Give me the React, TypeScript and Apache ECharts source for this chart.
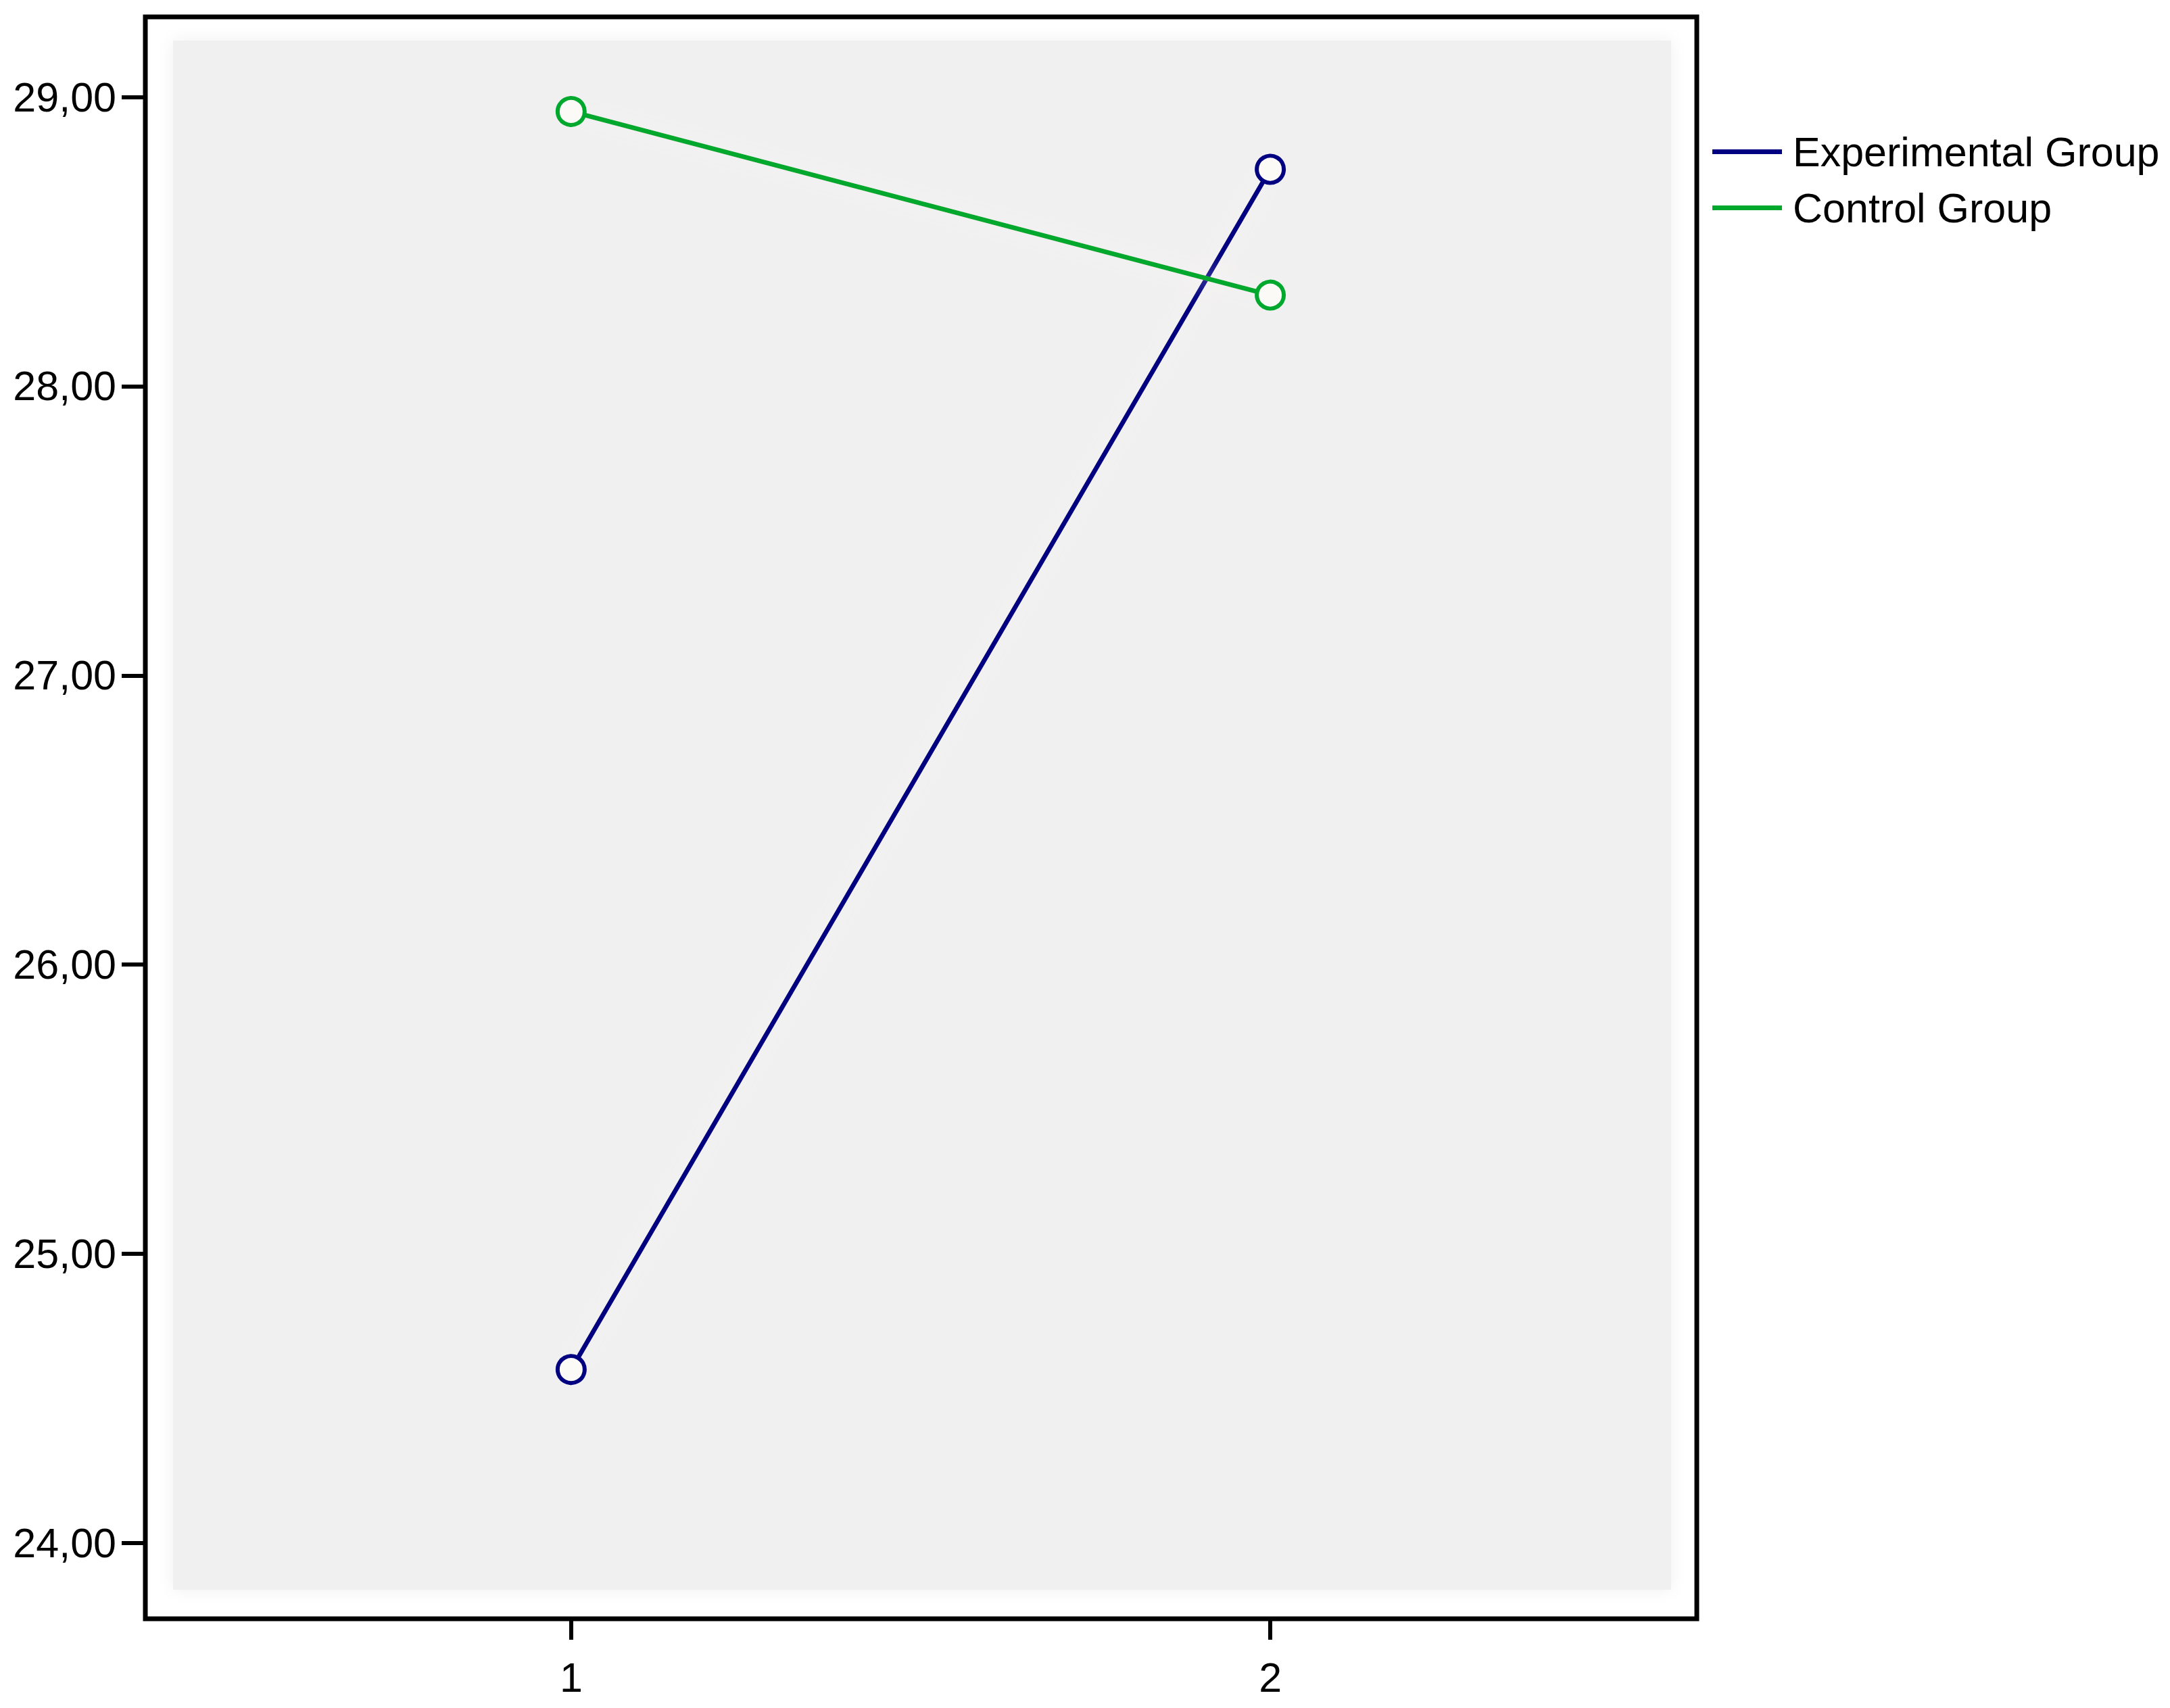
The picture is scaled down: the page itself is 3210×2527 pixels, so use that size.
import React, { useEffect, useRef } from "react";
import * as echarts from "echarts";

const xTicks = [1, 2];
const yTicks = [24, 25, 26, 27, 28, 29];
const seriesNames = ["Experimental Group", "Control Group"];
const experimental = [24.6, 28.75];
const control = [28.95, 28.315];
const colors = ["#000080", "#00a82d"];

const W = 3210;
const H = 2527;
const FONT = "'Liberation Sans', Arial, sans-serif";

export default function App() {
  const ref = useRef<HTMLDivElement>(null);
  useEffect(() => {
    if (!ref.current) return;
    const chart = echarts.init(ref.current, undefined, { renderer: "svg" });
    const grid = { left: 215, top: 25, right: W - 2510, bottom: H - 2395 };
    const mk = (name: string, vals: number[], color: string) => ({
      name,
      type: "line",
      data: xTicks.map((x, i) => [x, vals[i]]),
      symbol: "circle",
      symbolSize: 40,
      lineStyle: {
        color,
        width: 7,
        shadowBlur: 36,
        shadowColor: "rgba(255,246,245,1)",
      },
      itemStyle: { color: "#fbfaf6", borderColor: color, borderWidth: 6 },
      z: 5,
    });
    chart.setOption({
      animation: false,
      backgroundColor: "#ffffff",
      grid: {
        ...grid,
        show: true,
        borderColor: "#000",
        borderWidth: 7,
        backgroundColor: "transparent",
        containLabel: false,
      },
      graphic: [
        {
          type: "rect",
          z: 1,
          silent: true,
          shape: { x: 256, y: 60, width: 2472 - 256, height: 2352 - 60 },
          style: {
            fill: "#f0f0f0",
            shadowBlur: 24,
            shadowColor: "#f0f0f0",
          },
        },
      ],
      legend: {
        orient: "vertical",
        left: 2528,
        top: 189,
        itemWidth: 103,
        itemHeight: 7,
        itemGap: 22,
        icon: "rect",
        data: seriesNames.map((n, i) => ({
          name: n,
          itemStyle: { color: colors[i], borderWidth: 0 },
        })),
        textStyle: {
          fontFamily: FONT,
          fontSize: 61,
          color: "#000",
          lineHeight: 60,
          padding: [0, 0, 0, 11],
        },
      },
      xAxis: {
        type: "value",
        min: 0.391,
        max: 2.61,
        splitLine: { show: false },
        axisLine: { show: false },
        axisTick: {
          show: true,
          customValues: xTicks,
          length: 31,
          lineStyle: { color: "#000", width: 6 },
        },
        axisLabel: {
          customValues: xTicks,
          margin: 56,
          fontFamily: FONT,
          fontSize: 61,
          color: "#000",
          formatter: (v: number) => String(v),
        },
      },
      yAxis: {
        type: "value",
        min: 23.738,
        max: 29.277,
        splitLine: { show: false },
        axisLine: { show: false },
        axisTick: {
          show: true,
          customValues: yTicks,
          length: 35,
          lineStyle: { color: "#000", width: 6 },
        },
        axisLabel: {
          customValues: yTicks,
          margin: 43,
          fontFamily: FONT,
          fontSize: 61,
          color: "#000",
          formatter: (v: number) => v.toFixed(2).replace(".", ","),
        },
      },
      series: [
        mk(seriesNames[0], experimental, colors[0]),
        mk(seriesNames[1], control, colors[1]),
      ],
    });
    return () => chart.dispose();
  }, []);
  return (
    <div
      ref={ref}
      style={{ position: "fixed", left: 0, top: 0, width: W, height: H }}
    />
  );
}
